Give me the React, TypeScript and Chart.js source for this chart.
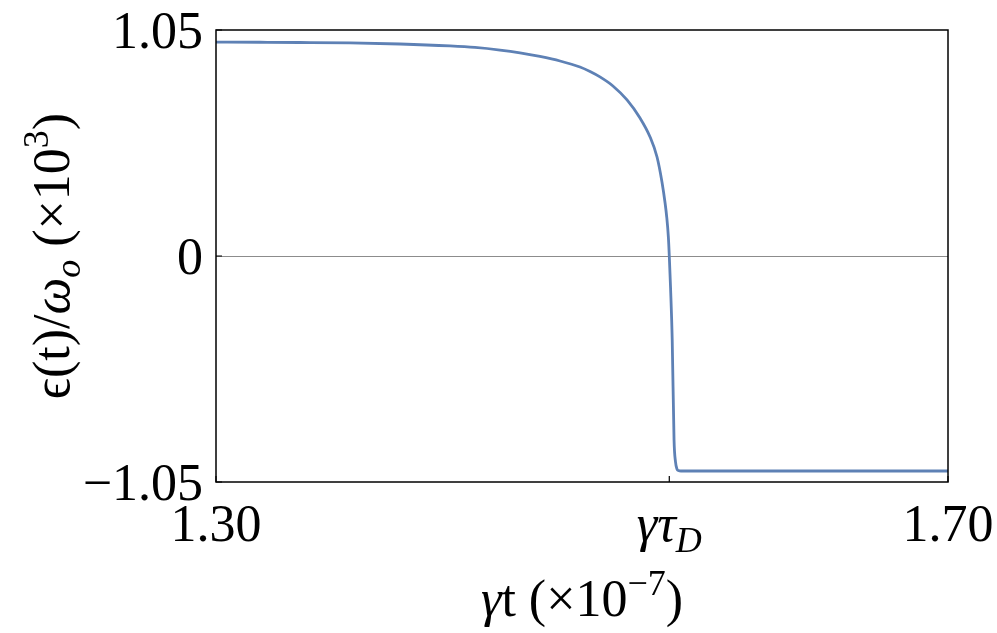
import React, { useEffect, useRef } from "react";
import { Chart, registerables } from "chart.js";

Chart.register(...registerables);

// Data (γt in units of 1e-7, ε/ω0 in units of 1e3)
const tValues = [
  1.3, 1.324, 1.3459, 1.3732, 1.4005, 1.4279, 1.4415, 1.4552, 1.4661, 1.477,
  1.488, 1.4989, 1.5044, 1.5098, 1.5169, 1.5246, 1.5317, 1.5372, 1.541,
  1.5437, 1.5454, 1.5463, 1.5472, 1.5477, 1.5484, 1.5493, 1.5503, 1.5511,
  1.5519, 1.5527, 1.5541, 1.5645, 1.7,
];
const epsValues = [
  0.994, 0.993, 0.992, 0.99, 0.985, 0.976, 0.969, 0.957, 0.944, 0.927, 0.906,
  0.878, 0.857, 0.832, 0.79, 0.725, 0.641, 0.553, 0.46, 0.344, 0.246, 0.181,
  0.088, 0.0, -0.15, -0.39, -0.855, -0.957, -0.99, -0.997, -0.999, -0.999,
  -0.999,
];

const xTickValues = [1.3, 1.5477, 1.7];
const yTickValues = [-1.05, 0, 1.05];
const yTickLabels = ["\u22121.05", "0", "1.05"];

type Seg = { t: string; it?: boolean; pos?: "sub" | "sup" };

const xTickLabels: Seg[][] = [
  [{ t: "1.30" }],
  [{ t: "γτ", it: true }, { t: "D", it: true, pos: "sub" }],
  [{ t: "1.70" }],
];
const xTitle: Seg[] = [
  { t: "γ", it: true },
  { t: "t (×10" },
  { t: "\u22127", pos: "sup" },
  { t: ")" },
];
const yTitle: Seg[] = [
  { t: "ϵ(t)/" },
  { t: "ω", it: true },
  { t: "o", it: true, pos: "sub" },
  { t: " (×10" },
  { t: "3", pos: "sup" },
  { t: ")" },
];

const FAMILY = '"Times New Roman", "Liberation Serif", serif';
const BASE = 52;

function segFont(s: Seg) {
  const size = s.pos ? Math.round(BASE * 0.7) : BASE;
  return `${s.it ? "italic " : ""}${size}px ${FAMILY}`;
}

function drawRich(
  ctx: CanvasRenderingContext2D,
  segs: Seg[],
  x: number,
  y: number,
  align: "center" | "right" | "left"
) {
  let total = 0;
  const widths: number[] = [];
  for (const s of segs) {
    ctx.font = segFont(s);
    const w = ctx.measureText(s.t).width;
    widths.push(w);
    total += w;
  }
  let cx = align === "center" ? x - total / 2 : align === "right" ? x - total : x;
  ctx.textBaseline = "alphabetic";
  ctx.textAlign = "left";
  segs.forEach((s, i) => {
    ctx.font = segFont(s);
    const dy = s.pos === "sup" ? -BASE * 0.4 : s.pos === "sub" ? BASE * 0.22 : 0;
    ctx.fillText(s.t, cx, y + dy);
    cx += widths[i];
  });
}

const decorPlugin = {
  id: "decor",
  afterDatasetsDraw(chart: any) {
    const ctx: CanvasRenderingContext2D = chart.ctx;
    const { left, right, top, bottom } = chart.chartArea;
    const xs = chart.scales.x;
    const ys = chart.scales.y;
    ctx.save();
    // frame
    ctx.strokeStyle = "#000";
    ctx.lineWidth = 1.5;
    ctx.strokeRect(left, top, right - left, bottom - top);
    // ticks
    ctx.lineWidth = 1.2;
    ctx.beginPath();
    for (const v of yTickValues) {
      const py = ys.getPixelForValue(v);
      ctx.moveTo(left, py);
      ctx.lineTo(left + 6, py);
    }
    for (const v of xTickValues) {
      const px = xs.getPixelForValue(v);
      ctx.moveTo(px, bottom);
      ctx.lineTo(px, bottom - 6);
    }
    ctx.stroke();
    // y tick labels
    ctx.fillStyle = "#000";
    yTickValues.forEach((v, i) => {
      const py = ys.getPixelForValue(v);
      drawRich(ctx, [{ t: yTickLabels[i] }], left - 13, py + 18, "right");
    });
    // x tick labels
    xTickValues.forEach((v, i) => {
      const px = xs.getPixelForValue(v);
      drawRich(ctx, xTickLabels[i], px, bottom + 59, "center");
    });
    // x title
    drawRich(ctx, xTitle, (left + right) / 2, bottom + 134, "center");
    // y title
    ctx.translate(69, (top + bottom) / 2);
    ctx.rotate(-Math.PI / 2);
    drawRich(ctx, yTitle, 0, 0, "center");
    ctx.restore();
  },
  beforeDatasetsDraw(chart: any) {
    const ctx: CanvasRenderingContext2D = chart.ctx;
    const { left, right } = chart.chartArea;
    const py = Math.round(chart.scales.y.getPixelForValue(0)) + 0.5;
    ctx.save();
    ctx.strokeStyle = "#8c8c8c";
    ctx.lineWidth = 1;
    ctx.beginPath();
    ctx.moveTo(left, py);
    ctx.lineTo(right, py);
    ctx.stroke();
    ctx.restore();
  },
};

export default function App() {
  const ref = useRef<HTMLCanvasElement | null>(null);
  useEffect(() => {
    if (!ref.current) return;
    const chart = new Chart(ref.current, {
      type: "line",
      data: {
        datasets: [
          {
            data: tValues.map((t, i) => ({ x: t, y: epsValues[i] })),
            borderColor: "#5E81B5",
            borderWidth: 2.8,
            pointRadius: 0,
            cubicInterpolationMode: "monotone",
            fill: false,
          },
        ],
      },
      options: {
        animation: false,
        responsive: true,
        maintainAspectRatio: false,
        layout: { padding: { left: 0, top: 30, right: 49, bottom: 0 } },
        plugins: { legend: { display: false }, tooltip: { enabled: false } },
        scales: {
          x: {
            type: "linear",
            min: 1.3,
            max: 1.7,
            grid: { display: false, drawTicks: false },
            border: { display: false },
            ticks: { display: false },
            afterFit: (s: any) => {
              s.height = 151;
            },
          },
          y: {
            type: "linear",
            min: -1.05,
            max: 1.05,
            grid: { display: false, drawTicks: false },
            border: { display: false },
            ticks: { display: false },
            afterFit: (s: any) => {
              s.width = 216;
            },
          },
        },
      },
      plugins: [decorPlugin],
    });
    return () => chart.destroy();
  }, []);
  return (
    <div
      style={{
        position: "absolute",
        left: 0,
        top: 0,
        width: 997,
        height: 633,
        background: "#fff",
      }}
    >
      <canvas ref={ref} />
    </div>
  );
}
